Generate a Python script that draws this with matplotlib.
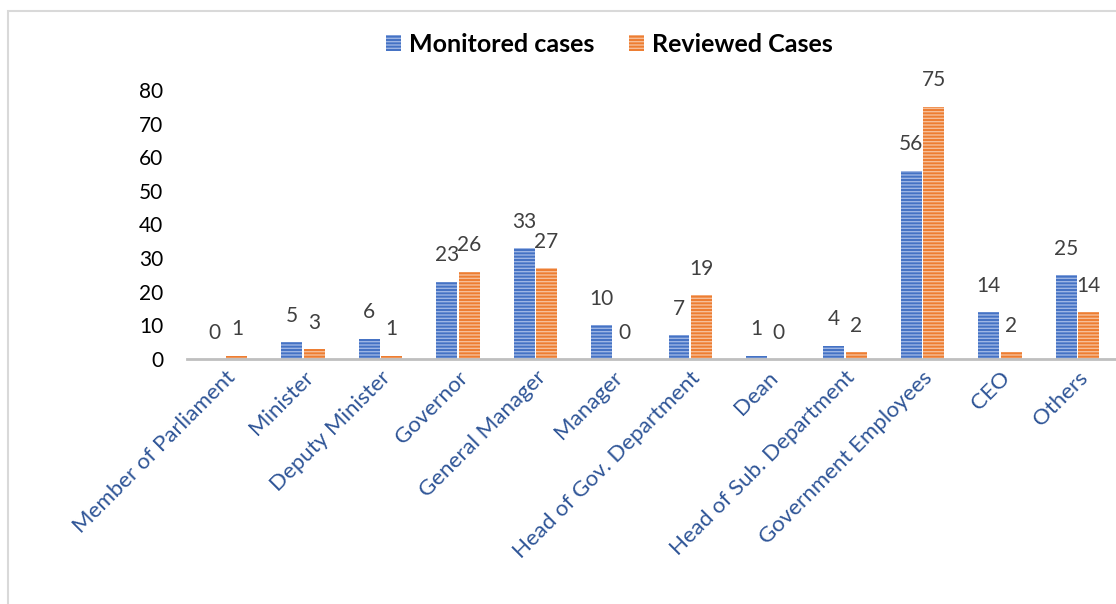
import numpy as np
import matplotlib.pyplot as plt
from matplotlib.patches import Rectangle, Patch

plt.rcParams['font.family'] = ['Lato', 'DejaVu Sans']
plt.rcParams['hatch.linewidth'] = 1.0

categories = ['Member of Parliament', 'Minister', 'Deputy Minister', 'Governor',
              'General Manager', 'Manager', 'Head of Gov. Department', 'Dean',
              'Head of Sub. Department', 'Government Employees', 'CEO', 'Others']
monitored = [0, 5, 6, 23, 33, 10, 7, 1, 4, 56, 14, 25]
reviewed = [1, 3, 1, 26, 27, 0, 19, 0, 2, 75, 2, 14]

blue, blue_light = '#4472C4', '#9DB5E4'
orange, orange_light = '#ED7D31', '#F6BE98'

fig = plt.figure(figsize=(11.16, 6.04), dpi=100)
ax = fig.add_axes([187 / 1116, 1 - 359 / 604, 1 - 187 / 1116, (359 - 90) / 604])

x = np.arange(len(categories))
w = 0.27
off = 0.145
b1 = ax.bar(x - off, monitored, w, color=blue, edgecolor=blue_light, linewidth=0, hatch='-----')
b2 = ax.bar(x + off, reviewed, w, color=orange, edgecolor=orange_light, linewidth=0, hatch='-----')

for bars, vals in ((b1, monitored), (b2, reviewed)):
    for r, v in zip(bars, vals):
        ax.annotate(str(v), (r.get_x() + r.get_width() / 2, v), xytext=(0, 19),
                    textcoords='offset points', ha='center', va='center',
                    fontsize=15, color='#404040', annotation_clip=False)

ax.set_xlim(-0.5, len(categories) - 0.5)
ax.set_ylim(0, 80)
ax.set_yticks(range(0, 81, 10))
ax.tick_params(axis='y', length=0, labelsize=15, pad=17, labelcolor='black')
ax.tick_params(axis='x', length=0, pad=6)
ax.set_xticks(x)
ax.set_xticklabels(categories, rotation=45, ha='right', va='top', rotation_mode='anchor',
                   fontsize=16, color='#2F5597')
for s in ('top', 'right', 'left'):
    ax.spines[s].set_visible(False)
ax.spines['bottom'].set_color('#BFBFBF')
ax.spines['bottom'].set_linewidth(2)

handles = [Patch(facecolor=blue, edgecolor=blue_light, linewidth=0, hatch='-----'),
           Patch(facecolor=orange, edgecolor=orange_light, linewidth=0, hatch='-----')]
fig.legend(handles, ['Monitored cases', 'Reviewed Cases'], loc='center',
           bbox_to_anchor=(0.546, 0.926), ncol=2, frameon=False,
           prop={'weight': 'bold', 'size': 18}, handlelength=0.6, handleheight=0.6,
           handletextpad=0.3, columnspacing=1.4)

fig.patches.append(Rectangle((8 / 1116, -0.05), 1.1, 1 - 11 / 604 + 0.05,
                             transform=fig.transFigure, fill=False,
                             edgecolor='#D9D9D9', linewidth=1.5))

plt.savefig('out.png', dpi=100)
